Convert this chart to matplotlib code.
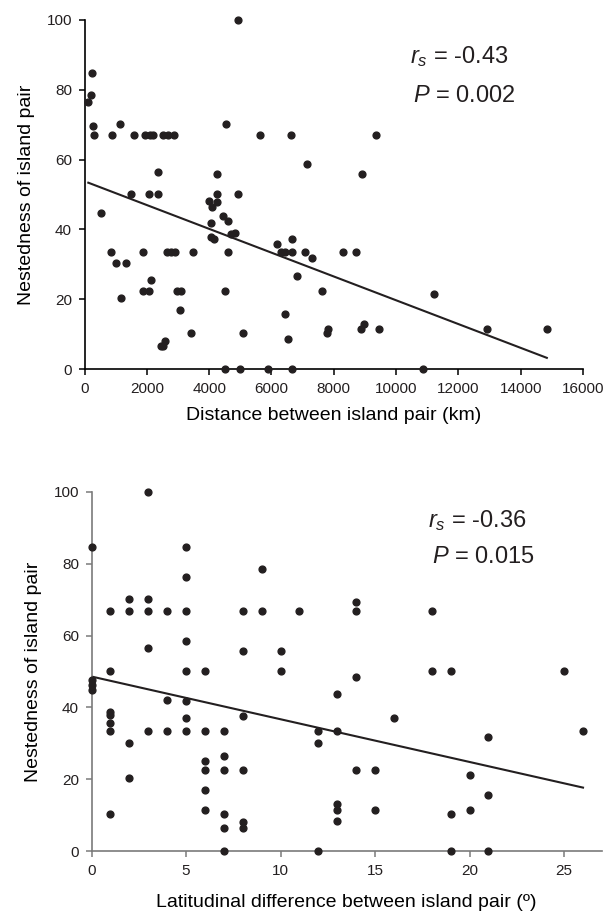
import matplotlib
matplotlib.use("Agg")
import matplotlib.pyplot as plt

plt.rcParams["font.family"] = ["Liberation Sans", "DejaVu Sans"]
plt.rcParams["mathtext.fontset"] = "custom"
plt.rcParams["mathtext.it"] = "Liberation Sans:italic"
plt.rcParams["mathtext.rm"] = "Liberation Sans"

# top panel: distance between island pair (km) vs nestedness
dist_km = [122, 209, 231, 263, 315, 520, 861, 883, 1021, 1150, 1182, 1332, 1493, 1589,
           1867, 1889, 1942, 2070, 2070, 2103, 2135, 2209, 2359, 2359, 2466, 2530, 2530,
           2594, 2638, 2690, 2777, 2883, 2905, 2959, 3066, 3087, 3419, 3493, 4006, 4051,
           4061, 4103, 4157, 4243, 4253, 4263, 4436, 4510, 4510, 4542, 4616, 4616, 4703,
           4831, 4930, 4937, 5000, 5098, 5634, 5901, 6169, 6308, 6436, 6436, 6543, 6619,
           6650, 6650, 6671, 6821, 7078, 7132, 7312, 7624, 7774, 7826, 8308, 8715, 8866,
           8908, 8972, 9348, 9453, 10856, 11229, 12930, 14837]
nest_dist = [76.6, 78.5, 84.9, 69.6, 67, 44.8, 33.6, 67, 30.4, 70.3, 20.3, 30.4, 50.2, 67,
             33.6, 22.5, 67, 50.2, 22.5, 67, 25.5, 67, 50.2, 56.5, 6.7, 6.7, 67,
             7.9, 33.6, 67, 33.6, 67, 33.6, 22.5, 17, 22.5, 10.3, 33.6, 48.2, 37.9,
             41.9, 46.5, 37.3, 47.9, 55.9, 50.2, 43.8, 22.5, 0, 70.3, 42.3, 33.6, 38.7,
             38.9, 50.2, 100, 0, 10.3, 67, 0, 35.9, 33.6, 33.6, 15.7, 8.6, 67,
             33.6, 0, 37.2, 26.6, 33.6, 58.6, 31.9, 22.5, 10.3, 11.4, 33.6, 33.6, 11.4,
             55.9, 12.9, 67, 11.4, 0, 21.4, 11.4, 11.4]
fit_dist = (53.8, -0.00341)  # intercept, slope of the drawn trend line

# bottom panel: latitudinal difference (degrees) vs nestedness
lat_diff = [0, 0, 0, 0,
            1, 1, 1, 1, 1, 1, 1,
            2, 2, 2, 2,
            3, 3, 3, 3, 3,
            4, 4, 4,
            5, 5, 5, 5, 5, 5, 5, 5,
            6, 6, 6, 6, 6, 6,
            7, 7, 7, 7, 7, 7,
            8, 8, 8, 8, 8, 8,
            9, 9, 10, 10, 11,
            12, 12, 12,
            13, 13, 13, 13, 13,
            14, 14, 14, 14,
            15, 15, 16, 18, 18,
            19, 19, 19, 20, 20,
            21, 21, 21, 25, 26]
nest_lat = [84.7, 47.6, 46.2, 44.8,
            66.9, 50.1, 38.6, 37.9, 35.6, 33.4, 10.3,
            70.1, 66.9, 30.2, 20.2,
            100, 70.1, 66.9, 56.5, 33.4,
            66.9, 42.1, 33.4,
            84.7, 76.2, 66.9, 58.5, 50.1, 41.9, 37.0, 33.4,
            50.1, 33.4, 25.2, 22.5, 17.0, 11.4,
            33.4, 26.5, 22.5, 10.3, 6.5, 0,
            66.9, 55.7, 37.7, 22.5, 8.2, 6.5,
            78.5, 66.9, 55.7, 50.1, 66.9,
            33.5, 30.2, 0,
            43.6, 33.5, 13.0, 11.3, 8.4,
            69.4, 66.9, 48.6, 22.5,
            22.5, 11.3, 37.0, 66.9, 50.1,
            50.1, 10.3, 0, 21.2, 11.3,
            31.8, 15.6, 0, 50.1, 33.5]
fit_lat = (48.6, -1.19)

dot = "#231f20"

fig = plt.figure(figsize=(6.08, 9.21), dpi=100)
ax1 = fig.add_axes([0.139, 0.5993, 0.820, 0.3790])
ax2 = fig.add_axes([0.1505, 0.0760, 0.8395, 0.3898])


def style(ax, col):
    for s in ["top", "right"]:
        ax.spines[s].set_visible(False)
    for s in ["left", "bottom"]:
        ax.spines[s].set_color(col)
        ax.spines[s].set_linewidth(1.2)
    ax.tick_params(direction="out", length=4, width=1.1, color=col,
                   labelsize=11, labelcolor=dot, pad=5)


# top
ax1.scatter(dist_km, nest_dist, s=24, color=dot, zorder=3, clip_on=False)
x0, x1 = min(dist_km), max(dist_km)
ax1.plot([x0, x1], [fit_dist[0] + fit_dist[1] * x0, fit_dist[0] + fit_dist[1] * x1],
         color=dot, lw=1.5)
ax1.set_xlim(0, 16000)
ax1.set_ylim(0, 100)
ax1.set_xticks(range(0, 16001, 2000))
ax1.set_yticks(range(0, 101, 20))
ax1.set_xlabel("Distance between island pair (km)", fontsize=14, labelpad=8)
ax1.set_ylabel("Nestedness of island pair", fontsize=14, labelpad=8)
style(ax1, "black")

# bottom
ax2.scatter(lat_diff, nest_lat, s=24, color=dot, zorder=3, clip_on=False)
x0, x1 = min(lat_diff), max(lat_diff)
ax2.plot([x0, x1], [fit_lat[0] + fit_lat[1] * x0, fit_lat[0] + fit_lat[1] * x1],
         color=dot, lw=1.5)
ax2.set_xlim(0, 27)
ax2.set_ylim(0, 100)
ax2.set_xticks(range(0, 26, 5))
ax2.set_yticks(range(0, 101, 20))
ax2.set_xlabel("Latitudinal difference between island pair (\u00ba)", fontsize=14, labelpad=12)
ax2.set_ylabel("Nestedness of island pair", fontsize=14, labelpad=8)
style(ax2, "#7a7a7a")

fig.text(410 / 608, 1 - 63 / 921, "$r_s$ = -0.43", fontsize=17, va="baseline", color=dot)
fig.text(413 / 608, 1 - 102 / 921, "$P$ = 0.002", fontsize=17, va="baseline", color=dot)
fig.text(428 / 608, 1 - 527 / 921, "$r_s$ = -0.36", fontsize=17, va="baseline", color=dot)
fig.text(432 / 608, 1 - 563 / 921, "$P$ = 0.015", fontsize=17, va="baseline", color=dot)

fig.savefig("out.png", dpi=100, facecolor="white")
